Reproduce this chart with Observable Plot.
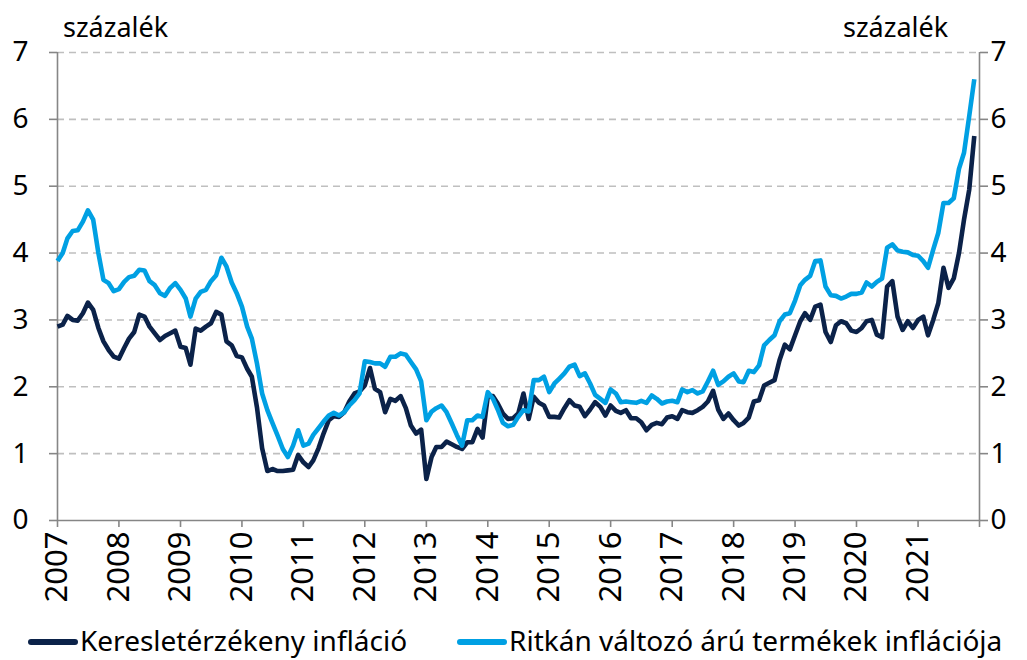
<!DOCTYPE html>
<html>
<head>
<meta charset="utf-8">
<script src="https://cdn.jsdelivr.net/npm/d3@7"></script>
<script src="https://cdn.jsdelivr.net/npm/@observablehq/plot@0.6"></script>
<style>
  html, body { margin: 0; padding: 0; background: #fff; overflow: hidden; }
  #wrap { position: relative; width: 1027px; height: 660px; font-family: "Noto Sans", sans-serif; }
  .unit { position: absolute; top: 13px; font-size: 27px; line-height: 1; color: #000; }
  #legend { position: absolute; left: 28px; top: 626px; font-size: 28px; line-height: 1; white-space: nowrap; color: #000; }
  .sw { display: inline-block; width: 50px; height: 6px; border-radius: 3px; vertical-align: middle; margin-right: 2px; position: relative; top: -2px; }
  .item { display: inline-block; }
</style>
</head>
<body>
<div id="wrap">
  <div id="chart"></div>
  <div class="unit" style="left:63px">százalék</div>
  <div class="unit" style="left:843px">százalék</div>
  <div id="legend"></div>
</div>
<script>
const startYear = 2007;
const seriesNames = ["Keresletérzékeny infláció", "Ritkán változó árú termékek inflációja"];
const seriesColors = ["#0b2249", "#00a0e3"];
const yTicks = [0, 1, 2, 3, 4, 5, 6, 7];
const yearLabels = [2007, 2008, 2009, 2010, 2011, 2012, 2013, 2014, 2015, 2016, 2017, 2018, 2019, 2020, 2021];

// Keresletérzékeny infláció, monthly 2007-01 .. 2021-12
const keresleti = [
  2.90, 2.93, 3.06, 3.00, 2.99, 3.10, 3.26, 3.15, 2.88, 2.68, 2.55, 2.45,
  2.42, 2.58, 2.72, 2.82, 3.08, 3.05, 2.90, 2.80, 2.70, 2.76, 2.80, 2.84,
  2.60, 2.58, 2.33, 2.87, 2.84, 2.90, 2.95, 3.12, 3.08, 2.68, 2.62, 2.46,
  2.44, 2.27, 2.15, 1.68, 1.08, 0.74, 0.77, 0.74, 0.74, 0.75, 0.76, 0.98,
  0.87, 0.80, 0.90, 1.08, 1.30, 1.50, 1.56, 1.55, 1.62, 1.78, 1.90, 1.93,
  2.02, 2.28, 1.97, 1.92, 1.62, 1.82, 1.79, 1.86, 1.68, 1.42, 1.30, 1.36,
  0.62, 0.95, 1.10, 1.10, 1.18, 1.14, 1.10, 1.07, 1.17, 1.17, 1.37, 1.24,
  1.86, 1.86, 1.75, 1.60, 1.52, 1.53, 1.60, 1.90, 1.52, 1.85, 1.76, 1.72,
  1.55, 1.55, 1.54, 1.68, 1.80, 1.72, 1.70, 1.56, 1.66, 1.77, 1.70, 1.57,
  1.72, 1.64, 1.61, 1.65, 1.53, 1.53, 1.47, 1.35, 1.43, 1.46, 1.44, 1.54,
  1.56, 1.52, 1.65, 1.62, 1.61, 1.65, 1.70, 1.78, 1.94, 1.66, 1.52, 1.60,
  1.50, 1.42, 1.46, 1.54, 1.78, 1.80, 2.02, 2.06, 2.10, 2.40, 2.63, 2.56,
  2.77, 2.98, 3.10, 3.00, 3.20, 3.23, 2.82, 2.67, 2.92, 2.98, 2.95, 2.84,
  2.82, 2.88, 2.98, 3.00, 2.78, 2.74, 3.50, 3.58, 3.05, 2.85, 2.98, 2.88,
  3.00, 3.05, 2.77, 3.00, 3.25, 3.78, 3.48, 3.62, 4.00, 4.50, 4.95, 5.75
];

// Ritkán változó árú termékek inflációja, monthly 2007-01 .. 2021-12
const ritkan = [
  3.88, 4.00, 4.22, 4.33, 4.34, 4.47, 4.64, 4.50, 4.00, 3.60, 3.55, 3.43,
  3.46, 3.57, 3.64, 3.66, 3.75, 3.74, 3.58, 3.52, 3.40, 3.36, 3.48, 3.55,
  3.45, 3.32, 3.05, 3.32, 3.42, 3.45, 3.58, 3.67, 3.93, 3.80, 3.56, 3.40,
  3.20, 2.90, 2.72, 2.34, 1.90, 1.65, 1.46, 1.27, 1.07, 0.95, 1.12, 1.35,
  1.12, 1.15, 1.28, 1.38, 1.48, 1.57, 1.61, 1.57, 1.62, 1.72, 1.80, 1.90,
  2.38, 2.37, 2.35, 2.35, 2.30, 2.45, 2.45, 2.50, 2.48, 2.37, 2.26, 2.08,
  1.50, 1.63, 1.68, 1.72, 1.62, 1.45, 1.28, 1.12, 1.50, 1.50, 1.57, 1.55,
  1.92, 1.82, 1.66, 1.46, 1.41, 1.43, 1.55, 1.65, 1.63, 2.10, 2.10, 2.15,
  1.92, 2.05, 2.12, 2.20, 2.30, 2.33, 2.16, 2.20, 2.05, 1.88, 1.82, 1.76,
  1.96, 1.90, 1.77, 1.78, 1.77, 1.76, 1.79, 1.76, 1.87, 1.82, 1.75, 1.78,
  1.79, 1.77, 1.96, 1.92, 1.95, 1.90, 1.93, 2.08, 2.24, 2.03, 2.08, 2.15,
  2.20, 2.08, 2.07, 2.24, 2.22, 2.32, 2.62, 2.70, 2.77, 2.98, 3.08, 3.10,
  3.29, 3.52, 3.60, 3.66, 3.88, 3.89, 3.50, 3.37, 3.36, 3.32, 3.35, 3.39,
  3.39, 3.41, 3.56, 3.50, 3.57, 3.62, 4.08, 4.13, 4.04, 4.02, 4.01, 3.97,
  3.96, 3.88, 3.78, 4.05, 4.30, 4.75, 4.75, 4.82, 5.26, 5.50, 6.05, 6.60
];

const monthDate = i => new Date(Date.UTC(startYear + Math.floor(i / 12), i % 12, 1));
const rows = [];
[keresleti, ritkan].forEach((arr, s) => arr.forEach((v, i) => rows.push({date: monthDate(i), value: v, series: seriesNames[s]})));

const xStart = new Date(Date.UTC(startYear, 0, 1));
const xEnd = new Date(Date.UTC(yearLabels[yearLabels.length - 1] + 1, 0, 1));
const yearTicks = yearLabels.map(y => new Date(Date.UTC(y, 0, 1))).concat([xEnd]);
const axisGrey = "#868686";
const font = "Noto Sans, sans-serif";

const chart = Plot.plot({
  width: 1027,
  height: 660,
  marginTop: 52,
  marginBottom: 140,
  marginLeft: 57,
  marginRight: 48,
  style: {fontFamily: font, background: "#fff", overflow: "visible"},
  x: {type: "utc", domain: [xStart, xEnd]},
  y: {domain: [0, 7]},
  color: {domain: seriesNames, range: seriesColors},
  marks: [
    Plot.gridY(yTicks.filter(d => d > 0), {stroke: "#bfbfbf", strokeOpacity: 1, strokeWidth: 1.6, strokeDasharray: "7,5"}),
    Plot.ruleY([0], {stroke: axisGrey, strokeWidth: 1.6}),
    Plot.ruleX([xStart, xEnd], {stroke: axisGrey, strokeWidth: 1.6}),
    Plot.axisY(yTicks, {anchor: "left", tickSize: 8, tickPadding: 21, fontSize: 28, stroke: axisGrey, strokeWidth: 1.6, fill: "#000", label: null, tickFormat: d => String(d)}),
    Plot.axisY(yTicks, {anchor: "right", tickSize: 8, tickPadding: 3, fontSize: 28, stroke: axisGrey, strokeWidth: 1.6, fill: "#000", label: null, tickFormat: d => String(d)}),
    Plot.axisX(yearTicks, {anchor: "bottom", tickSize: 7, tickPadding: 4, tickRotate: -90, fontSize: 31, stroke: axisGrey, strokeWidth: 1.6, fill: "#000", label: null,
      tickFormat: d => d.getUTCFullYear() > yearLabels[yearLabels.length - 1] ? "" : String(d.getUTCFullYear())}),
    Plot.line(rows, {x: "date", y: "value", z: "series", stroke: "series", strokeWidth: 4.6, strokeLinejoin: "round", strokeLinecap: "butt"})
  ]
});
document.getElementById("chart").appendChild(chart);

const legend = document.getElementById("legend");
seriesNames.forEach((name, i) => {
  const item = document.createElement("span");
  item.className = "item";
  item.style.marginRight = i === 0 ? "50px" : "0";
  const sw = document.createElement("span");
  sw.className = "sw";
  sw.style.background = seriesColors[i];
  item.appendChild(sw);
  item.appendChild(document.createTextNode(name));
  legend.appendChild(item);
});
</script>
</body>
</html>
